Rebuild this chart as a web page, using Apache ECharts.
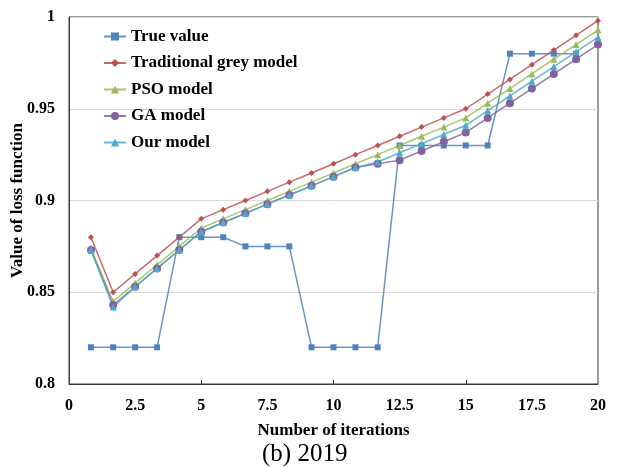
<!DOCTYPE html>
<html>
<head>
    <meta charset="utf-8" />
    <title>Loss function 2019</title>
    <script src="https://cdn.jsdelivr.net/npm/echarts@6.0.0/dist/echarts.min.js"></script>
    <style>
        html, body { margin: 0; padding: 0; background: #fff; }
    </style>
</head>
<body>
    <div id="main" style="width: 621px;height: 467px;"></div>
    <script type="text/javascript">
        // data
        var iterations = [0.83, 1.67, 2.5, 3.33, 4.17, 5, 5.83, 6.67, 7.5, 8.33, 9.17, 10,
            10.83, 11.67, 12.5, 13.33, 14.17, 15, 15.83, 16.67, 17.5, 18.33, 19.17, 20];
        var xTicks = [0, 2.5, 5, 7.5, 10, 12.5, 15, 17.5, 20];
        var yTicks = [0.8, 0.85, 0.9, 0.95, 1];

        var trueValue = [0.82, 0.82, 0.82, 0.82, 0.88, 0.88, 0.88, 0.875, 0.875, 0.875, 0.82, 0.82,
            0.82, 0.82, 0.93, 0.93, 0.93, 0.93, 0.93, 0.98, 0.98, 0.98, 0.98, null];
        var greyModel = [0.88, 0.85, 0.86, 0.87, 0.88, 0.89, 0.895, 0.9, 0.905, 0.91, 0.915, 0.92,
            0.925, 0.93, 0.935, 0.94, 0.945, 0.95, 0.958, 0.966, 0.974, 0.982, 0.99, 0.998];
        var psoModel = [0.874, 0.845, 0.855, 0.865, 0.875, 0.885, 0.89, 0.895, 0.9, 0.905, 0.91, 0.915,
            0.92, 0.925, 0.93, 0.935, 0.94, 0.945, 0.953, 0.961, 0.969, 0.977, 0.985, 0.993];
        var gaModel = [0.873, 0.843, 0.853, 0.863, 0.873, 0.883, 0.888, 0.893, 0.898, 0.903, 0.908, 0.913,
            0.918, 0.92, 0.922, 0.927, 0.932, 0.937, 0.945, 0.953, 0.961, 0.969, 0.977, 0.985];
        var ourModel = [0.873, 0.842, 0.853, 0.863, 0.873, 0.883, 0.888, 0.893, 0.898, 0.903, 0.908, 0.913,
            0.918, 0.921, 0.926, 0.931, 0.936, 0.941, 0.949, 0.957, 0.965, 0.973, 0.981, 0.989];

        var myChart = echarts.init(document.getElementById('main'));

        function pairs(values) {
            var out = [];
            for (var i = 0; i < values.length; i++) {
                if (values[i] != null) out.push([iterations[i], values[i]]);
            }
            return out;
        }

        var tickFont = { fontFamily: 'Liberation Serif', fontWeight: 'bold', fontSize: 16, color: '#000' };
        var nameFont = { fontFamily: 'Liberation Serif', fontWeight: 'bold', fontSize: 17, color: '#000' };

        function lineSeries(name, values, color, symbol, size) {
            return {
                name: name,
                type: 'line',
                data: pairs(values),
                symbol: symbol,
                symbolSize: size,
                lineStyle: { color: color, width: 1.5, opacity: 0.85 },
                itemStyle: { color: color },
                emphasis: { disabled: true }
            };
        }

        var option = {
            animation: false,
            backgroundColor: '#fff',
            grid: {
                left: 69, right: 23, top: 17, bottom: 83,
                outerBoundsMode: 'none',
                containLabel: false,
                show: true, borderColor: '#3a3a3a', borderWidth: 1
            },
            legend: {
                orient: 'vertical',
                left: 98, top: 23,
                itemWidth: 22, itemHeight: 10,
                itemGap: 9.5,
                textStyle: { fontFamily: 'Liberation Serif', fontWeight: 'bold', fontSize: 17, color: '#000' }
            },
            xAxis: {
                type: 'value',
                min: xTicks[0], max: xTicks[xTicks.length - 1], interval: 2.5,
                name: 'Number of iterations',
                nameLocation: 'middle',
                nameGap: 38,
                nameMoveOverlap: false,
                nameTextStyle: nameFont,
                axisLine: { lineStyle: { color: '#3a3a3a', width: 1 } },
                axisTick: { show: true, inside: true, length: 4, customValues: [5, 10, 15], lineStyle: { color: '#3a3a3a' } },
                axisLabel: Object.assign({ margin: 14 }, tickFont),
                splitLine: { show: false }
            },
            yAxis: {
                type: 'value',
                min: yTicks[0], max: yTicks[yTicks.length - 1], interval: 0.05,
                name: 'Value of loss function',
                nameLocation: 'middle',
                nameGap: 43,
                nameMoveOverlap: false,
                nameTextStyle: nameFont,
                axisLine: { show: true, lineStyle: { color: '#3a3a3a', width: 1 } },
                axisTick: { show: false },
                axisLabel: Object.assign({ margin: 14 }, tickFont),
                splitLine: { show: true, lineStyle: { color: '#d9d9d9', width: 1 } }
            },
            graphic: [{
                type: 'text',
                left: 262,
                top: 442,
                style: { text: '(b) 2019', fontFamily: 'Liberation Serif', fontSize: 25, fill: '#000' }
            }],
            series: [
                lineSeries('True value', trueValue, '#4F81BD', 'rect', 6),
                lineSeries('Traditional grey model', greyModel, '#C0504D', 'diamond', 6),
                lineSeries('PSO model', psoModel, '#9BBB59', 'triangle', 7),
                lineSeries('GA model', gaModel, '#8064A2', 'circle', 8),
                lineSeries('Our model', ourModel, '#4BACC6', 'triangle', 7)
            ]
        };

        myChart.setOption(option);
    </script>
</body>
</html>
